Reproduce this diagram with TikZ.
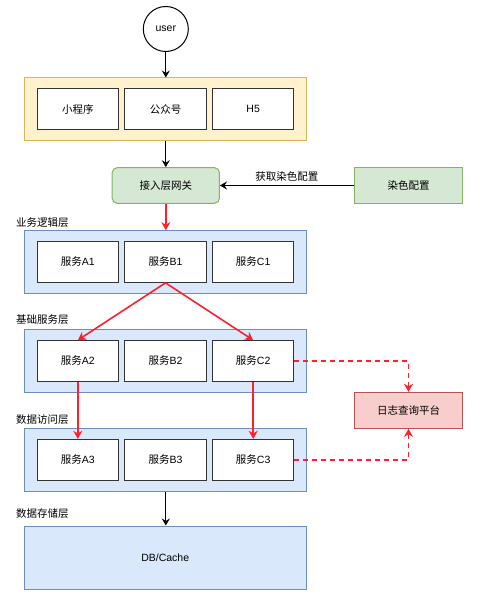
\documentclass[tikz,border=0pt]{standalone}
\usepackage{fontspec}
\setmainfont{Liberation Sans}
\newfontfamily\cjk{Noto Sans CJK SC}
\usetikzlibrary{arrows.meta}
\definecolor{bluefill}{HTML}{DAE8FC}
\definecolor{bluestroke}{HTML}{6C8EBF}
\definecolor{yellowfill}{HTML}{FFF2CC}
\definecolor{yellowstroke}{HTML}{D6B656}
\definecolor{greenfill}{HTML}{D5E8D4}
\definecolor{greenstroke}{HTML}{82B366}
\definecolor{redfill}{HTML}{F8CECC}
\definecolor{redstroke}{HTML}{B85450}
\definecolor{arrowred}{HTML}{FF1F2E}
\definecolor{boxstroke}{HTML}{333333}
\begin{document}
\begin{tikzpicture}[x=1pt,y=-1pt,
  every node/.style={font=\fontsize{10.5pt}{12pt}\selectfont, inner sep=0pt},
  container/.style={draw=bluestroke, fill=bluefill, line width=1pt, minimum width=281.7pt, minimum height=63pt},
  inner/.style={draw=boxstroke, fill=white, line width=1pt, minimum width=81.3pt, minimum height=40.7pt},
  layerlabel/.style={anchor=west},
  blackarrow/.style={draw=black, line width=1pt, -{Stealth[length=7pt,width=8pt,inset=2.5pt]}},
  redarrow/.style={draw=arrowred, line width=1.6pt, -{Stealth[length=8pt,width=9pt,inset=2.5pt]}},
  reddash/.style={draw=arrowred, line width=1.6pt, dash pattern=on 5pt off 4pt, -{Stealth[length=8pt,width=9pt,inset=2.5pt]}},
  greenbox/.style={draw=greenstroke, fill=greenfill, line width=1pt, minimum width=108.4pt, minimum height=35.6pt}
]
\useasboundingbox (0,0) rectangle (478,601);

% user
\node[draw=black, line width=1pt, fill=white, circle, minimum size=45pt] (user) at (165.8,29) {user};

% client layer
\node[draw=yellowstroke, fill=yellowfill, line width=1pt, minimum width=281.7pt, minimum height=63pt] (client) at (165.2,109.5) {};
\node[inner] (mini) at (77.8,109.3) {\cjk 小程序};
\node[inner] (gzh) at (165.5,109.3) {\cjk 公众号};
\node[inner] (h5) at (253.2,109.3) {H5};

% gateway and config
\node[greenbox, rounded corners=5pt, minimum width=107.3pt] (gw) at (165.8,185.5) {\cjk 接入层网关};
\node[greenbox] (cfg) at (408.5,185.5) {\cjk 染色配置};

% log platform
\node[draw=redstroke, fill=redfill, line width=1pt, minimum width=108.4pt, minimum height=36pt] (log) at (408.5,410.3) {\cjk 日志查询平台};

% layer labels
\node[layerlabel] (l1) at (16,222.3) {\cjk 业务逻辑层};
\node[layerlabel] (l2) at (16,320) {\cjk 基础服务层};
\node[layerlabel] (l3) at (16,419.3) {\cjk 数据访问层};
\node[layerlabel] (l4) at (16,514) {\cjk 数据存储层};

% business layer
\node[container] (biz) at (165.2,262.2) {};
\node[inner] (a1) at (77.8,262) {{\cjk 服务}A1};
\node[inner] (b1) at (165.5,262) {{\cjk 服务}B1};
\node[inner] (c1) at (253.2,262) {{\cjk 服务}C1};

% base service layer
\node[container] (base) at (165.2,360.8) {};
\node[inner] (a2) at (77.8,361) {{\cjk 服务}A2};
\node[inner] (b2) at (165.5,361) {{\cjk 服务}B2};
\node[inner] (c2) at (253.2,361) {{\cjk 服务}C2};

% data access layer
\node[container] (dal) at (165.2,459.5) {};
\node[inner] (a3) at (77.8,459.7) {{\cjk 服务}A3};
\node[inner] (b3) at (165.5,459.7) {{\cjk 服务}B3};
\node[inner] (c3) at (253.2,459.7) {{\cjk 服务}C3};

% storage layer
\node[container] (db) at (165.2,557.5) {DB/Cache};

% connectors
\draw[blackarrow] (user) -- (client.north -| user);
\draw[blackarrow] (client.south -| gw) -- (gw);
\draw[blackarrow] (cfg) -- node[above=4pt] (cfglabel) {\cjk 获取染色配置} (gw);
\draw[redarrow] (gw) -- (biz.north -| gw);
\draw[redarrow] (b1.south) -- (a2.north);
\draw[redarrow] (b1.south) -- (c2.north);
\draw[redarrow] (a2) -- (a3);
\draw[redarrow] (c2) -- (c3);
\draw[reddash] (c2.east) -| (log.north);
\draw[reddash] (c3.east) -| (log.south);
\draw[blackarrow] (dal.south -| gw) -- (db.north -| gw);
\end{tikzpicture}
\end{document}
